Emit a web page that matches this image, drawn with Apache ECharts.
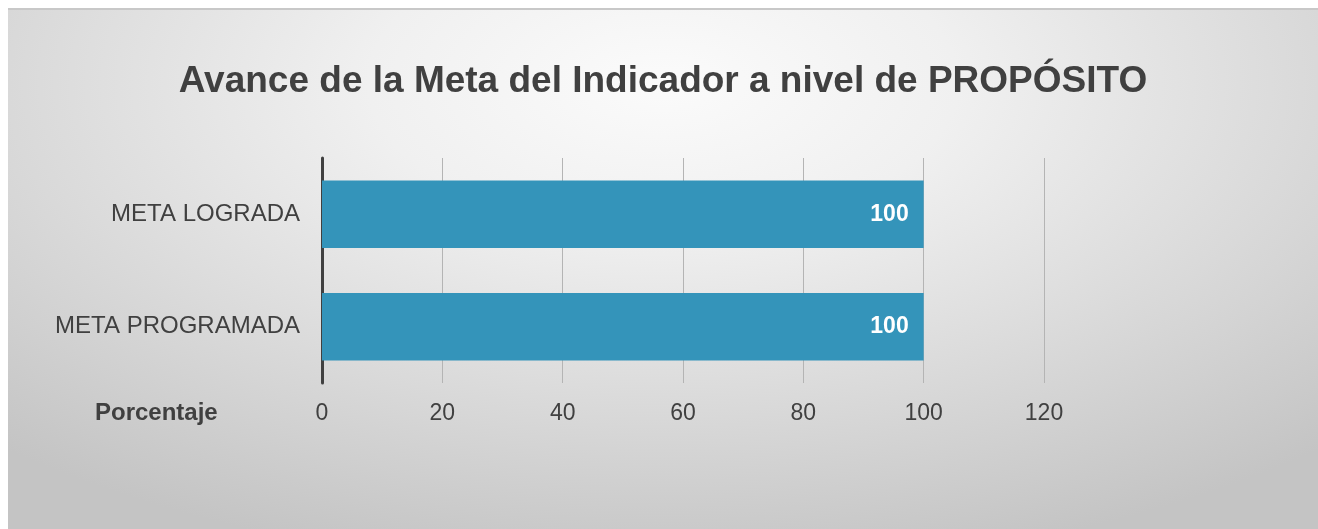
<!DOCTYPE html>
<html>
<head>
<meta charset="utf-8">
<script src="https://cdn.jsdelivr.net/npm/echarts@6/dist/echarts.min.js"></script>
<style>
html,body{margin:0;padding:0;background:#ffffff;}
#wrap{position:absolute;left:8px;top:8px;width:1310px;height:521px;
background:radial-gradient(ellipse 75% 95% at 50% 14%, #fbfbfb 0%, #f0f0f0 30%, #c4c4c4 100%);
border-top:2px solid #c8c8c8;box-sizing:border-box;}
#chart{width:1310px;height:519px;}
</style>
</head>
<body>
<div id="wrap"><div id="chart"></div></div>
<script>
const titleText = 'Avance de la Meta del Indicador a nivel de PROPÓSITO';
const categories = ['META PROGRAMADA', 'META LOGRADA'];
const values = [100, 100];
const axisName = 'Porcentaje';
const xMin = 0, xMax = 120, xStep = 20;

const chart = echarts.init(document.getElementById('chart'));
chart.setOption({
  backgroundColor: 'transparent',
  animation: false,
  title: {
    text: titleText,
    left: 'center',
    top: 48,
    textStyle: {fontFamily: 'Liberation Sans, Arial', fontSize: 37, fontWeight: 'bold', color: '#404040'}
  },
  grid: {left: 314, right: 274, top: 148, bottom: 146, containLabel: false},
  xAxis: {
    type: 'value', min: xMin, max: xMax, interval: xStep,
    axisLine: {show: false},
    axisTick: {show: false},
    splitLine: {show: true, lineStyle: {color: '#b4b4b4', width: 1}},
    axisLabel: {margin: 19, fontFamily: 'Liberation Sans, Arial', fontSize: 23, color: '#404040'}
  },
  yAxis: {
    type: 'category', data: categories,
    axisLine: {show: true, lineStyle: {color: '#404040', width: 3}},
    axisTick: {show: false},
    axisLabel: {margin: 22, fontFamily: 'Liberation Sans, Arial', fontSize: 24, color: '#404040'}
  },
  graphic: [{
    type: 'text', left: 87, top: 391,
    style: {text: axisName, font: 'bold 24px "Liberation Sans", Arial', fill: '#404040'}
  }],
  series: [{
    type: 'bar', data: values, barCategoryGap: '40%',
    itemStyle: {color: '#3494ba'},
    label: {show: true, position: 'insideRight', distance: 15, color: '#ffffff',
      fontFamily: 'Liberation Sans, Arial', fontSize: 23, fontWeight: 'bold'}
  }]
});
</script>
</body>
</html>
